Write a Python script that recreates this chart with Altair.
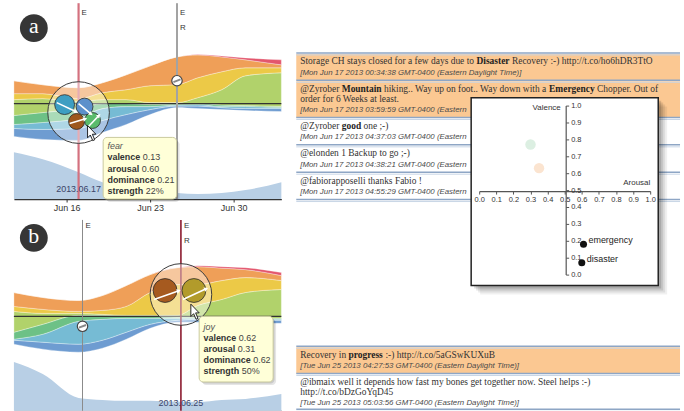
import math
import altair as alt
import pandas as pd

# ------------------------------------------------------------------ data
EMOTIONS = ["sadness", "fear", "trust", "calm", "joy", "excitement", "anger"]  # bottom -> top
EMO_COLORS = ["#6E9CD1", "#76BBD4", "#6DC186", "#B1D26B", "#ECC947", "#EF9F58", "#E3566D"]

# panel a (June 2013 day numbers)
DAYS_A = [11.58, 14, 17, 19, 21, 23, 25.25, 27, 29, 31, 34]
BASE_A = [-33, -36, -37, -29, -21, -11, -4, -5, -6, -7, -8]
A_SADNESS = [8, 10, 12, 12, 10, 5, 1.5, 2.5, 2, 2, 3]
A_FEAR = [4, 7, 10, 12, 8, 3, 1, 1.5, 1, 2, 1]
A_TRUST = [9, 10, 10, 5, 3, 2, 1, 1, 1.5, 1, 1]
A_CALM = [16, 14, 7, 4, 4, 2, 1.5, 6, 15.5, 30, 34]
A_JOY = [6, 5, 3, 7, 10, 17, 18, 20, 18, 8, 5]
A_EXCITE = [13, 9, 11, 10, 15, 20, 28, 23, 15, 8, 3]
A_ANGER = [0, 0, 0, 0, 0, 0, 0, 0.5, 1, 2, 5]
VOLUME_A = [47, 40, 27, 17, 12, 9, 6, 5, 6, 9, 17]

# panel b
DAYS_B = [11.33, 13.75, 16.75, 18.75, 20.75, 22.75, 25, 26.75, 28.75, 30.75, 33.75]
BASE_B = [-28, -33, -36, -32, -23, -12, -6, -6, -7, -7, -7]
B_SADNESS = [4, 7, 8, 8, 7, 4, 2, 3, 3, 3, 3]
B_FEAR = [1, 8, 23, 21, 14, 6, 2, 1, 1, 1, 1]
B_TRUST = [7, 10, 6, 4, 2, 2, 1, 1, 1, 1, 1]
B_CALM = [21, 11, 2, 1, 1, 1, 2, 12, 19, 26, 29]
B_JOY = [5, 4, 2, 4, 9, 23, 31, 21, 19, 15, 9]
B_EXCITE = [14, 12, 11, 15, 21, 18, 17, 18, 12.5, 8, 5]
B_ANGER = [0, 0, 0, 0, 0, 0, 0, 1, 1.5, 2, 3]
VOLUME_B = [49, 37, 13, 11, 10, 10, 9, 9, 11, 12, 17]

TIP_A = ["fear", 0.13, 0.60, 0.21, "22%"]
TIP_B = ["joy", 0.62, 0.31, 0.62, "50%"]
TIP_LABELS = ["valence", "arousal", "dominance", "strength"]

# inset scatter (arousal / valence)
WORDS = ["emergency", "disaster"]
WORD_AROUSAL = [0.61, 0.60]
WORD_VALENCE = [0.18, 0.07]
FADED_AROUSAL = [0.30, 0.35]
FADED_VALENCE = [0.77, 0.63]
FADED_COLORS = ["#DCEFE2", "#FBE4D0"]
TICKS = [0.0, 0.1, 0.2, 0.3, 0.4, 0.5, 0.6, 0.7, 0.8, 0.9, 1.0]

# timestamps of rows hidden behind the inset are cut where the inset covers them
TWEETS_A = [
    {"hl": True, "lines": [[("Storage CH stays closed for a few days due to ", 0), ("Disaster", 1),
                            (" Recovery :-) http://t.co/ho6hDR3TtO", 0)]],
     "time": "[Mon Jun 17 2013 00:34:38 GMT-0400 (Eastern Daylight Time)]"},
    {"hl": True, "lines": [[("@Zyrober ", 0), ("Mountain", 1), (" hiking.. Way up on foot.. Way down with a ", 0),
                            ("Emergency", 1), (" Chopper. Out of", 0)],
                           [("order for 6 Weeks at least.", 0)]],
     "time": "[Mon Jun 17 2013 03:59:59 GMT-0400 (Eastern"},
    {"hl": False, "lines": [[("@Zyrober ", 0), ("good", 1), (" one ;-)", 0)]],
     "time": "[Mon Jun 17 2013 04:37:03 GMT-0400 (Eastern"},
    {"hl": False, "lines": [[("@elonden 1 Backup to go ;-)", 0)]],
     "time": "[Mon Jun 17 2013 04:38:21 GMT-0400 (Eastern"},
    {"hl": False, "lines": [[("@fabiorapposelli thanks Fabio !", 0)]],
     "time": "[Mon Jun 17 2013 04:55:29 GMT-0400 (Eastern"},
]
TWEETS_B = [
    {"hl": True, "lines": [[("Recovery in ", 0), ("progress", 1), (" :-) http://t.co/5aGSwKUXuB", 0)]],
     "time": "[Tue Jun 25 2013 04:27:53 GMT-0400 (Eastern Daylight Time)]"},
    {"hl": False, "lines": [[("@ibmaix well it depends how fast my bones get together now. Steel helps :-)", 0)],
                            [("http://t.co/bDzGoYqD45", 0)]],
     "time": "[Tue Jun 25 2013 05:03:56 GMT-0400 (Eastern Daylight Time)]"},
]

# ------------------------------------------------------------------ font metrics (Times / Arial compatible)
LOW = "abcdefghijklmnopqrstuvwxyz"
UP = "ABCDEFGHIJKLMNOPQRSTUVWXYZ"
SERIF_R = dict(zip(LOW, [444, 500, 444, 500, 444, 333, 500, 500, 278, 278, 500, 278, 778, 500, 500, 500, 500,
                         333, 389, 278, 500, 500, 722, 500, 500, 444]))
SERIF_R.update(zip(UP, [722, 667, 667, 722, 611, 556, 722, 722, 333, 389, 722, 611, 889, 722, 722, 556, 722,
                        667, 556, 611, 722, 722, 944, 722, 722, 611]))
SERIF_R.update({c: 500 for c in "0123456789"})
SERIF_R.update({" ": 250, ".": 250, ",": 250, ":": 278, ";": 278, "-": 333, "(": 333, ")": 333,
                "/": 278, "@": 921, "!": 333, "?": 444})
SERIF_B = dict(SERIF_R)
SERIF_B.update(zip(LOW, [500, 556, 444, 556, 444, 333, 500, 556, 278, 333, 556, 278, 833, 556, 500, 556, 556,
                         444, 389, 333, 556, 500, 722, 500, 500, 444]))
SERIF_B.update(zip(UP, [722, 667, 722, 722, 667, 611, 778, 778, 389, 500, 778, 667, 944, 722, 778, 611, 778,
                        722, 556, 667, 722, 722, 1000, 722, 722, 667]))
KERN = {"Wa": -80, "We": -80, "Wo": -80, "Ty": -65, "y.": -65}
SANS_B = dict(zip(LOW, [556, 611, 556, 611, 556, 333, 611, 611, 278, 278, 556, 278, 889, 611, 611, 611, 611,
                        389, 556, 333, 611, 556, 778, 556, 556, 500]))
SANS_B[" "] = 278


def text_width(s, table, size, kern=False):
    w = sum(table.get(c, 500) for c in s)
    if kern:
        w += sum(KERN.get(s[i:i + 2], 0) for i in range(len(s) - 1))
    return w * size / 1000.0


# ------------------------------------------------------------------ stream panels
PX_PER_DAY = 12.0
SANS = "Liberation Sans"
SERIF = "Liberation Serif"


def stream_df(days, base, layers):
    rows = []
    for i, d in enumerate(days):
        lo = base[i]
        for name, vals in zip(EMOTIONS, layers):
            hi = lo + vals[i]
            rows.append(dict(day=d, emotion=name, lo=lo, hi=hi))
            lo = hi
    return pd.DataFrame(rows)


CURSOR = "M-0.55,-1 L-0.55,0.55 L-0.2,0.2 L0.1,0.9 L0.35,0.8 L0.05,0.1 L0.5,0.1 Z"


def panel(cfg):
    xs = alt.Scale(domain=cfg["xdom"], nice=False, zero=False)
    ys = alt.Scale(domain=cfg["ydom"], nice=False, zero=False)
    axis = alt.Axis(values=[16, 23, 30], labelExpr="'Jun ' + datum.value", labels=cfg["labels"],
                    tickSize=cfg["tick"], grid=False, title=None, domainColor="#333", tickColor="#333",
                    labelFont=SANS, labelFontSize=9, labelColor="#333", labelPadding=2, labelFlush=False,
                    domainWidth=1.2)

    def X(f):
        return alt.X(f"{f}:Q", scale=xs, axis=axis)

    def Y(f):
        return alt.Y(f"{f}:Q", scale=ys, axis=None)

    lo = cfg["ydom"][0]
    layers = []
    vol = pd.DataFrame({"day": cfg["days"], "vol": cfg["volume"]})
    layers.append(alt.Chart(vol).transform_calculate(vtop=f"datum.vol + ({lo})", vbot=f"{lo}")
                  .mark_area(interpolate="monotone", color="#B8CFE5")
                  .encode(x=X("day"), y=Y("vtop"), y2="vbot:Q"))
    sdf = stream_df(cfg["days"], cfg["base"], cfg["layers"])
    layers.append(alt.Chart(sdf).mark_area(interpolate="monotone", stroke="white", strokeWidth=0.6,
                                           strokeOpacity=0.55)
                  .encode(x=X("day"), y=Y("lo"), y2="hi:Q",
                          color=alt.Color("emotion:N", scale=alt.Scale(domain=EMOTIONS, range=EMO_COLORS),
                                          legend=None)))
    layers.append(alt.Chart(pd.DataFrame({"z": [0]})).mark_rule(color="#333", strokeWidth=1.2)
                  .encode(y=Y("z")))
    # event lines
    for d, col, w, labs in cfg["lines"]:
        layers.append(alt.Chart(pd.DataFrame({"day": [d]})).mark_rule(color=col, strokeWidth=w)
                      .encode(x=X("day")))
        for txt, yp in labs:
            layers.append(alt.Chart(pd.DataFrame({"day": [d], "t": [txt]}))
                          .mark_text(align="left", baseline="middle", dx=3, font=SANS, fontSize=8, color="#333")
                          .encode(x=X("day"), y=alt.value(yp), text="t:N"))
    # lens
    ld, ly, lr = cfg["lens"]
    layers.append(alt.Chart(pd.DataFrame({"day": [ld], "y": [ly]}))
                  .mark_point(shape="circle", filled=True, size=(2 * lr) ** 2, fill="white", fillOpacity=0.42,
                              stroke="#3a3a3a", strokeWidth=1, opacity=1)
                  .encode(x=X("day"), y=Y("y")))
    g = pd.DataFrame(cfg["glyphs"], columns=["day", "y", "r", "col"])
    g["size"] = (2 * g["r"]) ** 2
    layers.append(alt.Chart(g).mark_point(shape="circle", filled=True, opacity=1, stroke="#2a2a2a",
                                          strokeWidth=0.8)
                  .encode(x=X("day"), y=Y("y"), size=alt.Size("size:Q", scale=None, legend=None),
                          color=alt.Color("col:N", scale=None)))
    ar = pd.DataFrame(cfg["arrows"], columns=["d1", "y1", "d2", "y2"])
    ar["ang"] = [math.degrees(math.atan2((r.d2 - r.d1) * PX_PER_DAY, (r.y2 - r.y1))) % 360
                 for r in ar.itertuples()]
    layers.append(alt.Chart(ar).mark_rule(color="white", strokeWidth=1.6)
                  .encode(x=X("d1"), x2="d2:Q", y=Y("y1"), y2="y2:Q"))
    layers.append(alt.Chart(ar).mark_point(shape="triangle", filled=True, color="white", size=22, opacity=1)
                  .encode(x=X("d2"), y=Y("y2"), angle=alt.Angle("ang:Q", scale=None)))
    # marker on the other event line
    md, my = cfg["marker"]
    layers.append(alt.Chart(pd.DataFrame({"day": [md], "y": [my]}))
                  .mark_point(shape="circle", filled=True, size=110, fill="white", stroke="#444",
                              strokeWidth=1.2, opacity=1)
                  .encode(x=X("day"), y=Y("y")))
    layers.append(alt.Chart(pd.DataFrame({"day": [md], "y": [my]}))
                  .mark_point(shape="M-0.8,0.3 L0.8,-0.3", filled=False, size=80, stroke="#888",
                              strokeWidth=2, opacity=1)
                  .encode(x=X("day"), y=Y("y")))
    # tooltip
    (bx0, bx1, by0, by1), (tx, ty0, step) = cfg["tipbox"], cfg["tiptext"]
    box = pd.DataFrame({"x0": [bx0], "x1": [bx1], "y0": [by0], "y1": [by1]})
    for off, col, op in [(3, "#000", 0.10), (1.5, "#000", 0.12)]:
        layers.append(alt.Chart(box).mark_rect(fill=col, opacity=op, cornerRadius=4, xOffset=off, x2Offset=off,
                                               yOffset=off, y2Offset=off)
                      .encode(x=X("x0"), x2="x1:Q", y=Y("y0"), y2="y1:Q"))
    layers.append(alt.Chart(box).mark_rect(fill="#FFFFD8", stroke="#CACA9E", strokeWidth=1, cornerRadius=4)
                  .encode(x=X("x0"), x2="x1:Q", y=Y("y0"), y2="y1:Q"))
    tip = cfg["tip"]
    layers.append(alt.Chart(pd.DataFrame({"x": [tx], "y": [ty0], "t": [tip[0]]}))
                  .mark_text(align="left", baseline="middle", font=SANS, fontSize=9, fontStyle="italic",
                             color="#555").encode(x=X("x"), y=Y("y"), text="t:N"))
    lab_rows, val_rows = [], []
    for i, (lab, val) in enumerate(zip(TIP_LABELS, tip[1:])):
        yy = ty0 - step * (i + 1)
        lab_rows.append(dict(x=tx, y=yy, t=lab))
        vtxt = val if isinstance(val, str) else f"{val:.2f}"
        val_rows.append(dict(x=tx + (text_width(lab + " ", SANS_B, 9)) / PX_PER_DAY, y=yy, t=vtxt))
    layers.append(alt.Chart(pd.DataFrame(lab_rows))
                  .mark_text(align="left", baseline="middle", font=SANS, fontSize=9, fontWeight="bold",
                             color="#333").encode(x=X("x"), y=Y("y"), text="t:N"))
    layers.append(alt.Chart(pd.DataFrame(val_rows))
                  .mark_text(align="left", baseline="middle", font=SANS, fontSize=9, color="#444")
                  .encode(x=X("x"), y=Y("y"), text="t:N"))
    # date label
    dd, dy_, dtxt = cfg["date"]
    layers.append(alt.Chart(pd.DataFrame({"x": [dd], "y": [dy_], "t": [dtxt]}))
                  .mark_text(align="center", baseline="middle", font=SANS, fontSize=9, color="#3B4468")
                  .encode(x=X("x"), y=Y("y"), text="t:N"))
    # cursor
    cd, cy = cfg["cursor"]
    layers.append(alt.Chart(pd.DataFrame({"x": [cd], "y": [cy]}))
                  .mark_point(shape=CURSOR, filled=True, fill="white", stroke="#111", strokeWidth=0.9,
                              size=256, opacity=1)
                  .encode(x=X("x"), y=Y("y")))
    # badge
    bd, byy, letter = cfg["badge"]
    bdf = pd.DataFrame({"x": [bd], "y": [byy], "t": [letter]})
    layers.append(alt.Chart(bdf).mark_point(shape="circle", filled=True, size=784, color="#363636", opacity=1)
                  .encode(x=X("x"), y=Y("y")))
    layers.append(alt.Chart(bdf).mark_text(align="center", baseline="middle", font=SERIF, fontSize=22,
                                           color="white", dy=-2)
                  .encode(x=X("x"), y=Y("y"), text="t:N"))
    return alt.layer(*layers).properties(width=269, height=cfg["h"])


cfg_a = dict(
    xdom=[11.58, 34.0], ydom=[-96, 101], h=197, labels=True, tick=3,
    days=DAYS_A, base=BASE_A, volume=VOLUME_A,
    layers=[A_SADNESS, A_FEAR, A_TRUST, A_CALM, A_JOY, A_EXCITE, A_ANGER],
    lines=[(17.0, "#D4717F", 2.2, [("E", 10)]), (25.25, "#A3A3A3", 2.0, [("E", 10), ("R", 25)])],
    lens=(17.0, -9, 31),
    glyphs=[(15.83, -1, 10, "#3D9EC2"), (17.5, -3, 8.5, "#5C90CB"), (16.83, -18, 8, "#9E571D"),
            (18.17, -17, 8, "#5ABB6C")],
    arrows=[(15.17, 1, 16.75, -8), (17.0, 0, 18.0, -10), (16.25, -20, 17.5, -15.5), (17.83, -23, 18.67, -12.5)],
    marker=(25.25, 23),
    tipbox=(19.06, 25.22, -34, -96), tiptext=(19.42, -43, 11.2), tip=TIP_A,
    date=(17.0, -86, "2013.06.17"), cursor=(18.12, -30), badge=(13.25, 76, "a"),
)
cfg_b = dict(
    xdom=[11.33, 33.75], ydom=[-95, 97], h=192, labels=False, tick=2,
    days=DAYS_B, base=BASE_B, volume=VOLUME_B,
    layers=[B_SADNESS, B_FEAR, B_TRUST, B_CALM, B_JOY, B_EXCITE, B_ANGER],
    lines=[(17.08, "#8A8A8A", 1.0, [("E", 6)]), (25.33, "#8B1A2E", 1.6, [("E", 6), ("R", 21)])],
    lens=(25.33, 22, 31),
    glyphs=[(24.0, 26, 12, "#A65A1F"), (26.42, 26, 12, "#B29B2B")],
    arrows=[(23.08, 17, 25.1, 25.5), (25.5, 17, 27.4, 27.5)],
    marker=(17.08, -10),
    tipbox=(26.86, 33.06, 0, -66), tiptext=(27.22, -11, 11), tip=TIP_B,
    date=(25.33, -87, "2013.06.25"), cursor=(26.53, 4.3), badge=(13.0, 79, "b"),
)

left = alt.vconcat(panel(cfg_a), panel(cfg_b), spacing=6)

# ------------------------------------------------------------------ right column (tweets + inset)
RW, RH = 392, 411
TEXT_X = 6
FS = 9.5
TS_FS = 7.9


def tweet_frames(tweets, top):
    bg, seps, segs, times = [], [], [], []
    y = top
    for tw in tweets:
        row_top = y
        ty = y + 8.5
        for li, line in enumerate(tw["lines"]):
            if li:
                ty += 10
            x = TEXT_X
            for text, bold in line:
                table = SERIF_B if bold else SERIF_R
                lead = len(text) - len(text.lstrip(" "))
                segs.append(dict(x=x + lead * 250 * FS / 1000, y=ty, t=text.strip(" "), b=bold))
                x += text_width(text, table, FS, kern=True)
        ty += 11.5
        times.append(dict(x=TEXT_X, y=ty, t=tw["time"]))
        y = ty + 7.5
        if tw["hl"]:
            bg.append(dict(x0=2, x1=388, y0=row_top + 1, y1=y))
        seps.append(row_top)
    seps.append(min(y, RH - 2.5))
    return bg, seps, segs, times


BG, SEPS, SEGS, TIMES = [], [], [], []
for tw, top in [(TWEETS_A, 50), (TWEETS_B, 345)]:
    b_, s_, g_, t_ = tweet_frames(tw, top)
    BG += b_
    SEPS += s_
    SEGS += g_
    TIMES += t_

pxs = alt.Scale(domain=[0, RW], range=[0, RW], nice=False, zero=False)
pys = alt.Scale(domain=[0, RH], range=[0, RH], nice=False, zero=False)


def PX(f):
    return alt.X(f"{f}:Q", scale=pxs, axis=None)


def PY(f):
    return alt.Y(f"{f}:Q", scale=pys, axis=None)


seg_df = pd.DataFrame(SEGS)
sep_df = pd.DataFrame({"y": SEPS, "x0": [2] * len(SEPS), "x1": [388] * len(SEPS)})
sep_df["y2"] = sep_df["y"] + 2
tweets = alt.layer(
    alt.Chart(pd.DataFrame(BG)).mark_rect(fill="#FBC892").encode(x=PX("x0"), x2="x1:Q", y=PY("y0"), y2="y1:Q"),
    alt.Chart(sep_df).mark_rule(color="#C9D6E6", strokeWidth=1).encode(x=PX("x0"), x2="x1:Q", y=PY("y2")),
    alt.Chart(sep_df).mark_rule(color="#8EA6C5", strokeWidth=1.5).encode(x=PX("x0"), x2="x1:Q", y=PY("y")),
    alt.Chart(seg_df[~seg_df["b"].astype(bool)]).mark_text(align="left", baseline="middle", font=SERIF,
                                                           fontSize=FS, color="#333")
    .encode(x=PX("x"), y=PY("y"), text="t:N"),
    alt.Chart(seg_df[seg_df["b"].astype(bool)]).mark_text(align="left", baseline="middle", font=SERIF,
                                                          fontSize=FS, fontWeight="bold", color="#222")
    .encode(x=PX("x"), y=PY("y"), text="t:N"),
    alt.Chart(pd.DataFrame(TIMES)).mark_text(align="left", baseline="middle", font=SANS, fontSize=TS_FS,
                                             fontStyle="italic", color="#4a4a4a")
    .encode(x=PX("x"), y=PY("y"), text="t:N"),
)

axs = alt.Scale(domain=[0, 1], range=[186, 358], nice=False, zero=False)
ays = alt.Scale(domain=[0, 1], range=[273, 103], nice=False, zero=False)
x_axis = alt.Axis(orient="bottom", offset=-222, values=TICKS, format=".1f", tickSize=3, labelFontSize=7.5,
                  labelFont=SANS, labelColor="#333", domainColor="#555", tickColor="#555", grid=False,
                  title=None, labelPadding=1, labelFlush=False, labelOverlap=False, domainWidth=1.2, zindex=2)
y_axis = alt.Axis(orient="right", offset=-119, values=TICKS, format=".1f", tickSize=3, labelFontSize=7.5,
                  labelFont=SANS, labelColor="#333", domainColor="#555", tickColor="#555", grid=False,
                  title=None, labelPadding=2, labelFlush=False, labelOverlap=False, domainWidth=1.2, zindex=2)


def AX(f):
    return alt.X(f"{f}:Q", scale=axs, axis=x_axis)


def AY(f):
    return alt.Y(f"{f}:Q", scale=ays, axis=y_axis)


frame = pd.DataFrame({"x0": [-0.047], "x1": [1.047], "y0": [-0.065], "y1": [1.047]})
inset_layers = []
for off, op in [(9, 0.06), (7, 0.08), (5, 0.10), (3, 0.14)]:
    inset_layers.append(alt.Chart(frame).mark_rect(fill="black", opacity=op, xOffset=off, x2Offset=off,
                                                   yOffset=off, y2Offset=off)
                        .encode(x=AX("x0"), x2="x1:Q", y=AY("y0"), y2="y1:Q"))
inset_layers.append(alt.Chart(frame).mark_rect(fill="white", stroke="#222", strokeWidth=1.5)
                    .encode(x=AX("x0"), x2="x1:Q", y=AY("y0"), y2="y1:Q"))
faded = pd.DataFrame({"a": FADED_AROUSAL, "v": FADED_VALENCE, "c": FADED_COLORS})
inset_layers.append(alt.Chart(faded).mark_point(shape="circle", filled=True, size=110, opacity=1)
                    .encode(x=AX("a"), y=AY("v"), color=alt.Color("c:N", scale=None)))
words = pd.DataFrame({"a": WORD_AROUSAL, "v": WORD_VALENCE, "w": WORDS})
inset_layers.append(alt.Chart(words).mark_point(shape="circle", filled=True, size=50, color="#111", opacity=1)
                    .encode(x=AX("a"), y=AY("v")))
inset_layers.append(alt.Chart(words).mark_text(align="left", baseline="middle", dx=5, dy=-4, font=SANS,
                                               fontSize=9, color="#222")
                    .encode(x=AX("a"), y=AY("v"), text="w:N"))
titles = pd.DataFrame({"a": [0.5, 1.0], "v": [1.0, 0.5], "t": ["Valence", "Arousal"]})
inset_layers.append(alt.Chart(titles.iloc[[0]]).mark_text(align="right", baseline="middle", dx=-4, dy=2,
                                                          font=SANS, fontSize=8, color="#333")
                    .encode(x=AX("a"), y=AY("v"), text="t:N"))
inset_layers.append(alt.Chart(titles.iloc[[1]]).mark_text(align="right", baseline="middle", dy=-7,
                                                          font=SANS, fontSize=8, color="#333")
                    .encode(x=AX("a"), y=AY("v"), text="t:N"))
inset = alt.layer(*inset_layers)

right = alt.layer(tweets, inset).resolve_scale(x="independent", y="independent").properties(width=RW, height=RH)

chart = (
    alt.hconcat(left, right, spacing=11)
    .properties(padding={"left": 12, "top": 0, "right": 0, "bottom": 0}, background="white")
    .configure_view(stroke=None)
)

chart.save("out.html", embed_options={"renderer": "svg", "actions": False})
